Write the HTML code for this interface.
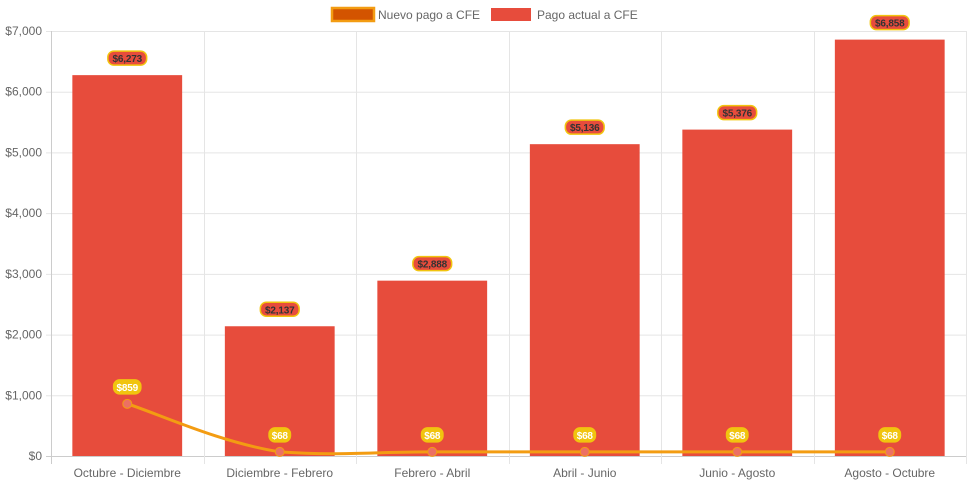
<!DOCTYPE html>
<html><head><meta charset="utf-8"><style>
body{margin:0;background:#fff;font-family:"Liberation Sans",Arial,sans-serif}
svg{display:block}
</style></head><body>
<svg id="c" width="971" height="485" viewBox="0 0 971 485">
<g>
 <g>
  <rect x="332" y="8" width="42" height="13" fill="#d35400" stroke="#f39c12" stroke-width="2.5"/>
  <text x="378" y="19" font-size="12" fill="#666">Nuevo pago a CFE</text>
 </g>
 <g>
  <rect x="491" y="8" width="40" height="13" fill="#e74c3c"/>
  <text x="537" y="19" font-size="12" fill="#666">Pago actual a CFE</text>
 </g>
</g>
<g id="grid"></g>
<g id="bars"></g>
<g id="line"></g>
<g id="labels"></g>
</svg>
<script>
const categories=["Octubre - Diciembre","Diciembre - Febrero","Febrero - Abril","Abril - Junio","Junio - Agosto","Agosto - Octubre"];
const actual=[6273,2137,2888,5136,5376,6858];
const nuevo=[859,68,68,68,68,68];
const yTicks=[0,1000,2000,3000,4000,5000,6000,7000];
const yTickLabels=["$0","$1,000","$2,000","$3,000","$4,000","$5,000","$6,000","$7,000"];
const NS="http://www.w3.org/2000/svg";
const L=51,R=966,T=31,B=456,yMax=7000;
const bw=(R-L)/categories.length;
const x=i=>L+bw*(i+0.5);
const y=v=>B-(v/yMax)*(B-T);
function mk(p,t,a){const e=document.createElementNS(NS,t);for(const k in a)e.setAttribute(k,a[k]);p.appendChild(e);return e;}
const g=document.getElementById('grid');
yTicks.forEach((v,i)=>{
 const l=mk(g,'line',{x1:L-5,x2:R,y1:y(v)+.5,y2:y(v)+.5,stroke:i==0?'#ccc':'#e5e5e5'});
 
 
 const t=mk(g,'text',{x:L-9,y:y(v)+4,'text-anchor':'end','font-size':12,fill:'#666'});t.textContent=yTickLabels[i];
 
 
});
for(let i=0;i<=categories.length;i++){
 const xx=Math.round(L+bw*i)+.5;
 const l=mk(g,'line',{x1:xx,x2:xx,y1:T,y2:B+8,stroke:i==0?'#ccc':'#e5e5e5'});
 
 
}
categories.forEach((c,i)=>{
 const t=mk(g,'text',{x:x(i),y:477,'text-anchor':'middle','font-size':12,fill:'#666'});t.textContent=c;
 
 
});
const bg=document.getElementById('bars'),lb=document.getElementById('labels');
function fmt(v){return '$'+v.toLocaleString('en-US');}
function pill(cx,cy,txt,fill,stroke,col){
 const w=txt.length*5.8+4;
 const r=mk(lb,'rect',{x:cx-w/2,y:cy-7,width:w,height:14,rx:6,fill:fill,stroke:stroke,'stroke-width':1.5});
 
 
 const t=mk(lb,'text',{x:cx,y:cy+4,'text-anchor':'middle','font-size':10,'font-weight':'bold',fill:col,'letter-spacing':'-0.2'});t.textContent=txt;
 
 
}
const barW=bw*0.72;
actual.forEach((v,i)=>{
 const r=mk(bg,'rect',{x:x(i)-barW/2,y:y(v),width:barW,height:B-y(v),fill:'#e74c3c'});
 
 
 pill(x(i),y(v)-17,fmt(v),'#e74c3c','#f1c40f','#333');
});
const lg=document.getElementById('line');
const pts=nuevo.map((v,i)=>[x(i),y(v)]);
let d='M'+pts[0][0]+','+pts[0][1];
const tn=0.2;
for(let i=0;i<pts.length-1;i++){
 const p0=pts[Math.max(0,i-1)],p1=pts[i],p2=pts[i+1],p3=pts[Math.min(pts.length-1,i+2)];
 const c1=[p1[0]+(p2[0]-p0[0])*tn,p1[1]+(p2[1]-p0[1])*tn];
 const c2=[p2[0]-(p3[0]-p1[0])*tn,p2[1]-(p3[1]-p1[1])*tn];
 d+=` C${c1[0]},${Math.min(c1[1],B)} ${c2[0]},${Math.min(c2[1],B)} ${p2[0]},${p2[1]}`;
}
const path=mk(lg,'path',{d:d,fill:'none',stroke:'#f39c12','stroke-width':3});


pts.forEach((p,i)=>{
 const c=mk(lg,'circle',{cx:p[0],cy:p[1],r:4.5,fill:'#ec7063',stroke:'#f39c12','stroke-width':1});
 
 
 pill(p[0],p[1]-17,fmt(nuevo[i]),'#f1c40f','#f1c40f','#fff');
});
</script>
</body></html>
